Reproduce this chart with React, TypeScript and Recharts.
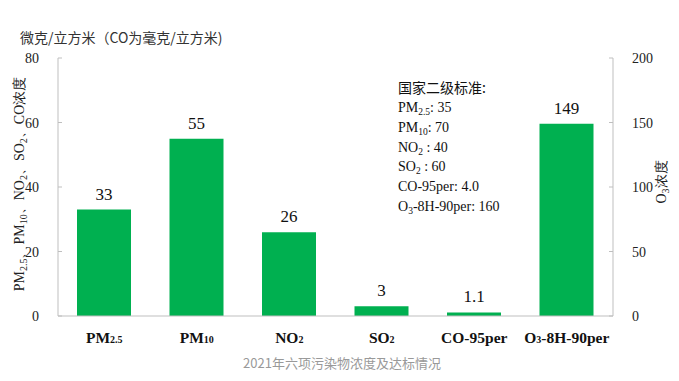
import { BarChart, Bar, XAxis, YAxis, LabelList } from 'recharts';

const categories = ['PM2.5', 'PM10', 'NO2', 'SO2', 'CO-95per', 'O3-8H-90per'];
// [main, subscript, rest] for the category ticks
const tickParts = [
    ['PM', '2.5', ''],
    ['PM', '10', ''],
    ['NO', '2', ''],
    ['SO', '2', ''],
    ['CO-95per', '', ''],
    ['O', '3', '-8H-90per'],
];
const leftValues = [33, 55, 26, 3, 1.1, null];
const rightValues = [null, null, null, null, null, 149];
const leftTicks = [0, 20, 40, 60, 80];
const rightTicks = [0, 50, 100, 150, 200];
const standards = [
    ['PM', '2.5', ': 35'],
    ['PM', '10', ': 70'],
    ['NO', '2', ' : 40'],
    ['SO', '2', ' : 60'],
    ['CO-95per: 4.0', '', ''],
    ['O', '3', '-8H-90per: 160'],
];

const data = categories.map((c, i) => ({ name: c, left: leftValues[i], right: rightValues[i] }));

const serif = '"Liberation Serif", "Times New Roman", serif';
const cjk = '"Noto Sans CJK SC", sans-serif';
const green = '#00b050';
const axisGray = '#bfbfbf';

function CategoryTick(props: any) {
    const { x, y, payload } = props;
    const idx = categories.indexOf(payload.value);
    const [main, sub, rest] = tickParts[idx];
    return (
        <text x={x} y={y + 19} textAnchor="middle" style={{ fontFamily: serif }} fontWeight="bold" fontSize={15.5} fill="#111">
            <tspan>{main}</tspan>
            {sub && <tspan fontSize={10}>{sub}</tspan>}
            {rest && <tspan>{rest}</tspan>}
        </text>
    );
}

function NumTick(props: any) {
    const { x, y, payload, textAnchor, side } = props;
    const ax = side === 'left' ? 58 : 613;
    const dir = side === 'left' ? 1 : -1;
    return (
        <g>
            <line x1={ax} x2={ax + dir * 4} y1={y} y2={y} stroke={axisGray} />
            <text x={x} y={y} dy={5} textAnchor={textAnchor} style={{ fontFamily: serif }} fontSize={14} fill="#222">
                {payload.value}
            </text>
        </g>
    );
}

function ValueLabel(props: any) {
    const { x, y, width, value } = props;
    if (value == null) return null;
    return (
        <text x={x + width / 2} y={y - 10} textAnchor="middle" style={{ fontFamily: serif }} fontSize={17} fill="#111">
            {value}
        </text>
    );
}

export default function App() {
    return (
        <div style={{ position: 'absolute', left: 0, top: 0, width: 679, height: 381, background: '#fff', fontFamily: serif }}>
            <BarChart width={679} height={381} data={data} margin={{ top: 58, right: 0, bottom: 35, left: 0 }}>
                <XAxis xAxisId="a" dataKey="name" height={30} stroke={axisGray} tickLine={false} tick={<CategoryTick />} />
                <XAxis xAxisId="b" dataKey="name" orientation="top" height={0} stroke={axisGray} tickLine={false} tick={false} />
                <YAxis
                    yAxisId="left"
                    width={58}
                    domain={[0, 80]}
                    ticks={leftTicks}
                    stroke={axisGray}
                    tickLine={false}
                    tickMargin={13}
                    tick={<NumTick side="left" />}
                />
                <YAxis
                    yAxisId="right"
                    orientation="right"
                    width={66}
                    domain={[0, 200]}
                    ticks={rightTicks}
                    stroke={axisGray}
                    tickLine={false}
                    tickMargin={13}
                    tick={<NumTick side="right" />}
                />
                <Bar xAxisId="a" yAxisId="left" dataKey="left" fill={green} barSize={54} isAnimationActive={false}>
                    <LabelList dataKey="left" content={<ValueLabel />} />
                </Bar>
                <Bar xAxisId="b" yAxisId="right" dataKey="right" fill={green} barSize={54} isAnimationActive={false}>
                    <LabelList dataKey="right" content={<ValueLabel />} />
                </Bar>
            </BarChart>
            <svg width={679} height={381} style={{ position: 'absolute', left: 0, top: 0, pointerEvents: 'none' }}>
                <text x={20} y={43} style={{ fontFamily: cjk }} fontSize={14} fill="#333">微克/立方米（CO为毫克/立方米)</text>
                <text transform="translate(24,184) rotate(-90)" textAnchor="middle" style={{ fontFamily: serif }} fontSize={14} fill="#222">
                    <tspan>PM</tspan><tspan fontSize={10} dy={3}>2.5</tspan>
                    <tspan dy={-3}>、</tspan><tspan>PM</tspan><tspan fontSize={10} dy={3}>10</tspan>
                    <tspan dy={-3}>、</tspan><tspan>NO</tspan><tspan fontSize={10} dy={3}>2</tspan>
                    <tspan dy={-3}>、</tspan><tspan>SO</tspan><tspan fontSize={10} dy={3}>2</tspan>
                    <tspan dy={-3}>、</tspan><tspan>CO浓度</tspan>
                </text>
                <text transform="translate(666,182) rotate(-90)" textAnchor="middle" style={{ fontFamily: serif }} fontSize={14} fill="#222">
                    <tspan>O</tspan><tspan fontSize={10} dy={3}>3</tspan><tspan dy={-3}>浓度</tspan>
                </text>
                <text x={398} y={93} style={{ fontFamily: cjk }} fontSize={14} fill="#111">国家二级标准:</text>
                {standards.map((s, i) => (
                    <text key={i} x={398} y={112 + i * 19.8} style={{ fontFamily: serif }} fontSize={14} fill="#111">
                        <tspan>{s[0]}</tspan>
                        {s[1] && <tspan fontSize={9.5} dy={3}>{s[1]}</tspan>}
                        {s[2] && <tspan dy={s[1] ? -3 : 0}>{s[2]}</tspan>}
                    </text>
                ))}
                <text x={342} y={368} textAnchor="middle" style={{ fontFamily: cjk }} fontSize={13} fill="#999">2021年六项污染物浓度及达标情况</text>
            </svg>
        </div>
    );
}
